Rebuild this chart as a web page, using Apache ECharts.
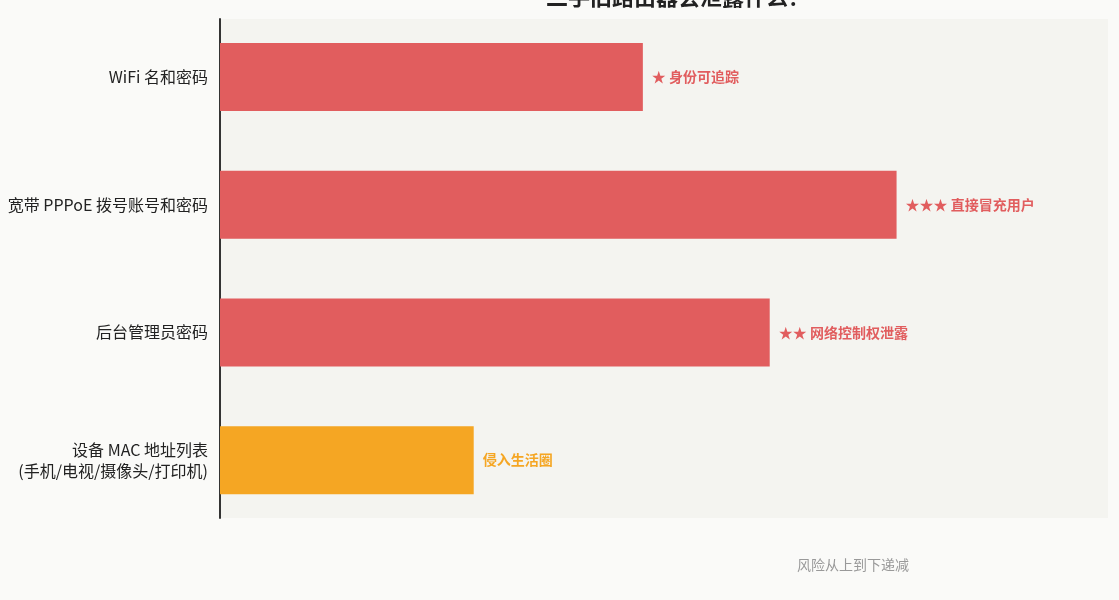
<!DOCTYPE html>
<html>
<head>
<meta charset="utf-8">
<script src="https://cdn.jsdelivr.net/npm/echarts@6/dist/echarts.min.js"></script>
<style>
  html, body { margin: 0; padding: 0; background: #FAFAF8; }
  #chart { width: 1119px; height: 600px; }
</style>
</head>
<body>
<div id="chart"></div>
<script>
// 类目（从上到下）
const categories = ['WiFi 名和密码', '宽带 PPPoE 拨号账号和密码', '后台管理员密码', '设备 MAC 地址列表\n(手机/电视/摄像头/打印机)'];
// 风险程度
const riskValues = [5, 8, 6.5, 3];
// 条形旁的说明
const riskNotes = ['★ 身份可追踪', '★★★ 直接冒充用户', '★★ 网络控制权泄露', '侵入生活圈'];
const barColors = ['#E15D5E', '#E15D5E', '#E15D5E', '#F5A623'];

const chart = echarts.init(document.getElementById('chart'));

const font = '"Noto Sans CJK SC", "Noto Sans", sans-serif';

chart.setOption({
  backgroundColor: '#FAFAF8',
  animation: false,
  title: {
    text: '二手旧路由器会泄露什么？',
    left: 673,
    textAlign: 'center',
    top: -19,
    textStyle: { fontSize: 22, fontWeight: 'bold', color: '#222', fontFamily: font }
  },
  // 背景与纵轴线用一个 grid，条形用稍高一点的 grid
  grid: [{
    left: 220, right: 11, top: 19, bottom: 82,
    show: true, backgroundColor: '#F4F4F0', borderWidth: 0
  }, {
    left: 220, right: 11, top: 13, bottom: 76
  }],
  xAxis: [
    { gridIndex: 0, type: 'value', min: 0, max: 10.5, show: false },
    { gridIndex: 1, type: 'value', min: 0, max: 10.5, show: false }
  ],
  yAxis: [{
    gridIndex: 0,
    type: 'category',
    data: categories,
    axisLine: { show: true, lineStyle: { color: '#333', width: 2 } },
    axisTick: { show: false },
    axisLabel: { show: false }
  }, {
    gridIndex: 1,
    type: 'category',
    inverse: true,
    data: categories,
    axisLine: { show: false },
    axisTick: { show: false },
    axisLabel: {
      margin: 12,
      fontSize: 16,
      lineHeight: 21,
      color: '#222',
      fontFamily: font
    }
  }],
  graphic: [{
    type: 'text',
    left: 797,
    top: 558,
    style: { text: '风险从上到下递减', fontSize: 14, fill: '#999', fontFamily: font }
  }],
  series: [{
    type: 'bar',
    xAxisIndex: 1,
    yAxisIndex: 1,
    barWidth: 68,
    data: riskValues.map((v, i) => ({
      value: v,
      itemStyle: { color: barColors[i] },
      label: { color: barColors[i] }
    })),
    label: {
      show: true,
      position: 'right',
      distance: 9,
      fontSize: 14,
      fontWeight: 'bold',
      fontFamily: font,
      formatter: p => riskNotes[p.dataIndex]
    }
  }]
});
</script>
</body>
</html>
